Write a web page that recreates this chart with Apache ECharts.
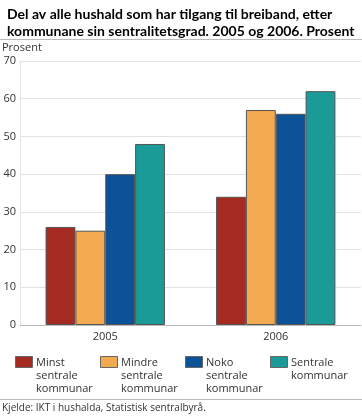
<!DOCTYPE html>
<html><head><meta charset="utf-8">
<script src="https://cdn.jsdelivr.net/npm/echarts@6/dist/echarts.min.js"></script>
<style>html,body{margin:0;padding:0;background:#fff}#c{width:362px;height:416px}</style>
</head><body><div id="c"></div>
<script>
var categories = ['2005', '2006'];
var seriesNames = ['Minst\nsentrale\nkommunar', 'Mindre\nsentrale\nkommunar', 'Noko\nsentrale\nkommunar', 'Sentrale\nkommunar'];
var minst = [26, 34];
var mindre = [25, 57];
var noko = [40, 56];
var sentrale = [48, 62];
var colors = ['#a52a22', '#f2aa50', '#0b5298', '#1b9b97'];
var yTicks = [0, 10, 20, 30, 40, 50, 60, 70];
var titleText = 'Del av alle hushald som har tilgang til breiband, etter\nkommunane sin sentralitetsgrad. 2005 og 2006. Prosent';
var sourceText = 'Kjelde: IKT i hushalda, Statistisk sentralbyrå.';

var values = [minst, mindre, noko, sentrale];
var font = 'Open Sans';
var chart = echarts.init(document.getElementById('c'), null, {renderer: 'canvas'});

var graphic = [
  {type: 'line', shape: {x1: 0, y1: 39.5, x2: 362, y2: 39.5}, style: {stroke: '#bbbbbb', lineWidth: 1}},
  {type: 'line', shape: {x1: 0, y1: 399.5, x2: 362, y2: 399.5}, style: {stroke: '#bbbbbb', lineWidth: 1}},
  {type: 'text', left: 2, top: 403, style: {text: sourceText, fill: '#333', font: '10px "' + font + '"'}},
  {type: 'text', left: 2, top: 42, style: {text: 'Prosent', fill: '#333', font: '11px "' + font + '"'}}
];
var legendX = [15, 100, 185, 270];
seriesNames.forEach(function (n, i) {
  graphic.push({type: 'rect', shape: {x: legendX[i] + 0.5, y: 356.5, width: 17, height: 11}, style: {fill: colors[i], stroke: '#666', lineWidth: 1}});
  graphic.push({type: 'text', x: legendX[i] + 21, y: 356, style: {text: n, fill: '#333', font: '11px "' + font + '"', lineHeight: 13, verticalAlign: 'top'}});
});

chart.setOption({
  animation: false,
  title: {text: titleText, left: 2, top: 1, textStyle: {fontFamily: 'Lato', fontWeight: 'bold', fontSize: 14, lineHeight: 17, color: '#000'}},
  grid: {left: 20, right: 1, top: 61, bottom: 91, containLabel: false},
  xAxis: {type: 'category', data: categories,
    axisLine: {show: true, lineStyle: {color: '#bbb'}}, axisTick: {show: false},
    axisLabel: {color: '#333', fontFamily: font, fontSize: 11, margin: 6}},
  yAxis: {type: 'value', min: 0, max: 70, interval: 10,
    axisLine: {show: true, lineStyle: {color: '#e2e2e2'}}, axisTick: {show: false},
    splitLine: {lineStyle: {color: '#e2e2e2', width: 1}},
    axisLabel: {color: '#333', fontFamily: font, fontSize: 11, margin: 4}},
  graphic: graphic,
  series: values.map(function (v, i) {
    return {type: 'bar', name: seriesNames[i], data: v, barGap: '0%', barCategoryGap: '30%',
      itemStyle: {color: colors[i], borderColor: '#555', borderWidth: 1}};
  })
});
</script></body></html>
